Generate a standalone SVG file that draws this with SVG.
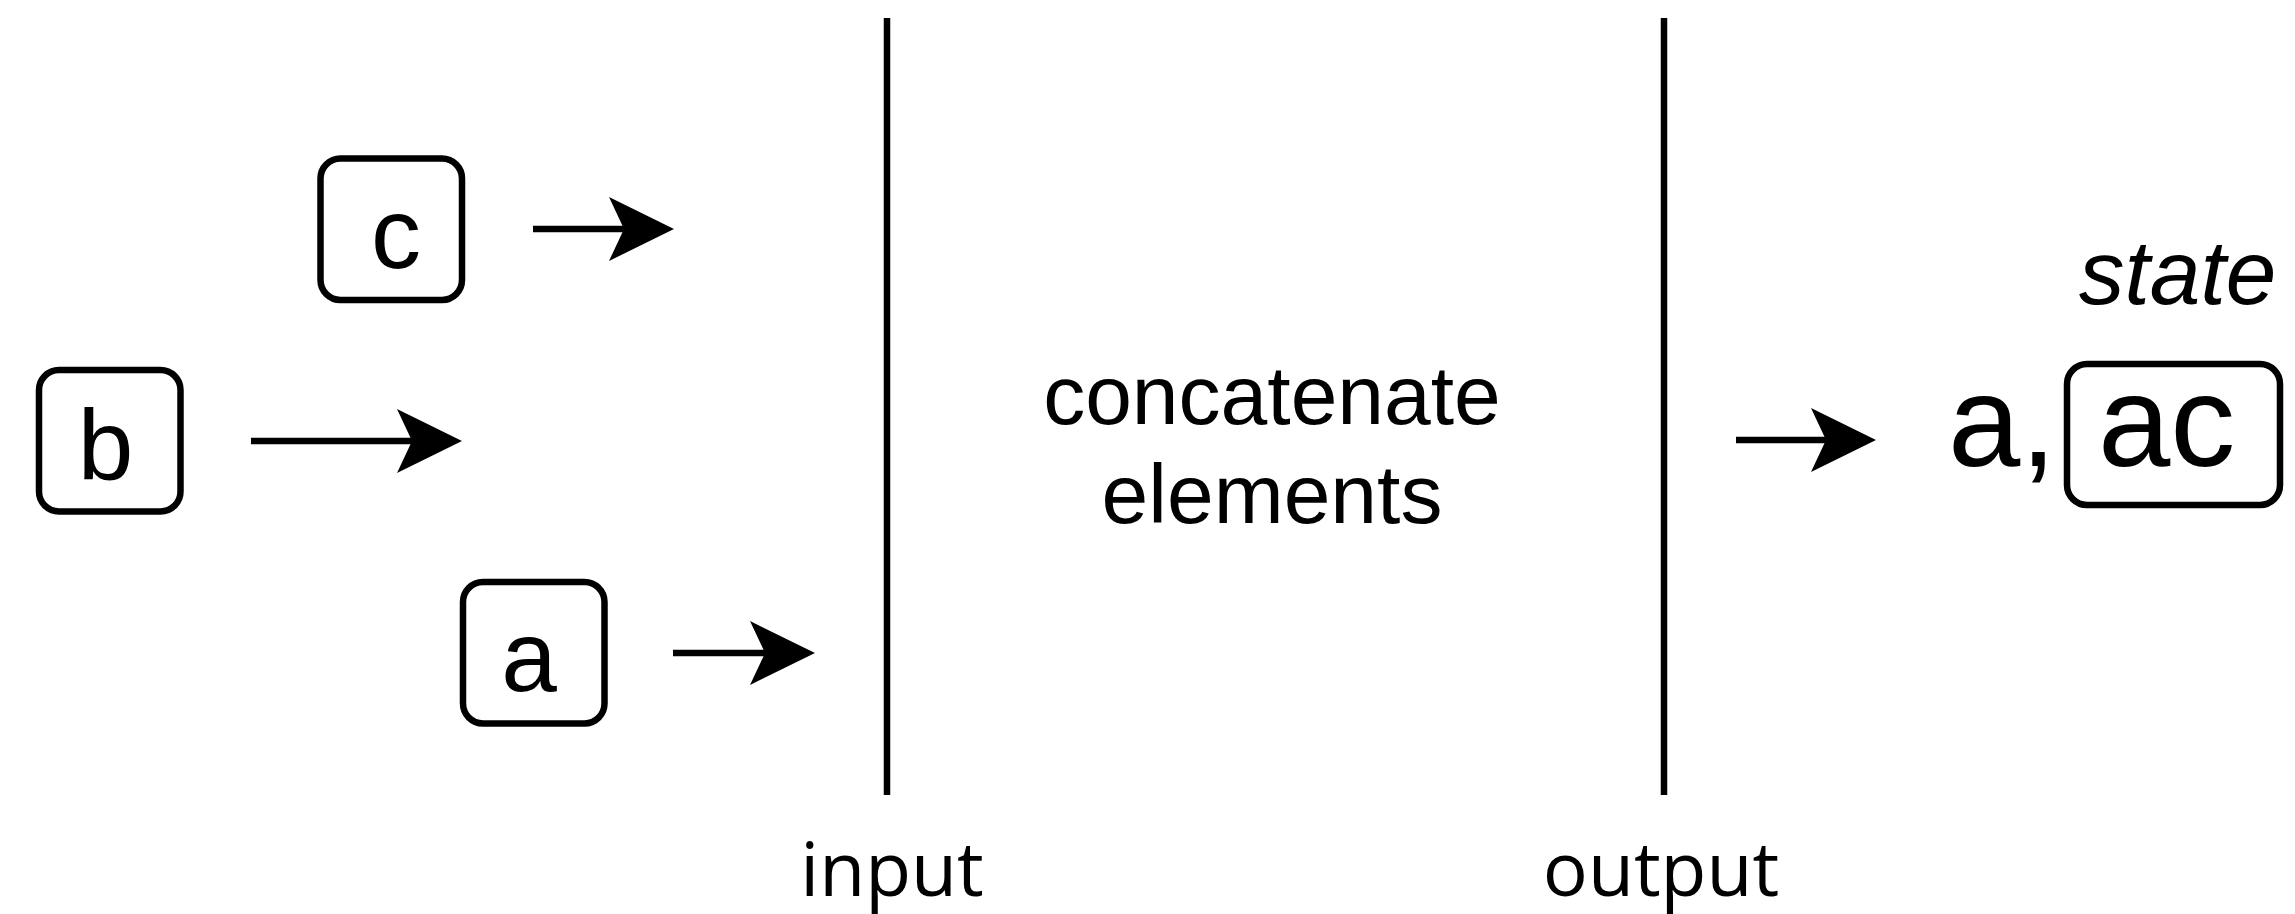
<svg xmlns="http://www.w3.org/2000/svg" width="2295" height="914" viewBox="0 0 2295 914">
  <style>
    .box { fill: #ffffff; stroke: #000000; stroke-width: 6.5; }
    .wire { stroke: #000000; stroke-width: 6.5; fill: none; }
    .sans { font-family: "Liberation Sans", Arial, sans-serif; fill: #000000; }
    .glyph { font-size: 100px; text-anchor: middle; }
    .body { font-size: 84px; text-anchor: middle; }
    .big { font-size: 130px; }
    .italic { font-size: 91px; font-style: italic; }
    .label { font-family: "Open Sans", "Noto Sans", sans-serif; font-size: 75px; text-anchor: middle; fill: #000000; }
  </style>
  <defs>
    <marker id="head" viewBox="0 0 65 64" refX="15" refY="32" markerWidth="65" markerHeight="64" markerUnits="userSpaceOnUse" orient="auto">
      <path d="M0,0 L65,32 L0,64 L15,32 Z" fill="#000000"/>
    </marker>
  </defs>
  <rect width="2295" height="914" fill="#ffffff"/>

  <!-- input elements -->
  <g id="node-c">
    <rect class="box" x="320.5" y="158.5" width="141.5" height="141.5" rx="20"/>
    <text class="sans glyph" x="396" y="268">c</text>
  </g>
  <g id="node-b">
    <rect class="box" x="39" y="370" width="141.5" height="141.5" rx="20"/>
    <text class="sans glyph" x="105.5" y="480">b</text>
  </g>
  <g id="node-a">
    <rect class="box" x="463" y="582" width="141.5" height="141.5" rx="20"/>
    <text class="sans glyph" x="529" y="691">a</text>
  </g>

  <!-- operator between the two boundaries -->
  <g id="node-operator">
    <text class="sans body" x="1272" y="424">concatenate</text>
    <text class="sans body" x="1272" y="523">elements</text>
  </g>

  <!-- result: emitted value plus state -->
  <g id="node-result">
    <text class="sans italic" x="2079" y="304">state</text>
    <text class="sans big" x="1948" y="466">a,</text>
    <rect class="box" x="2067" y="364" width="213" height="141" rx="20"/>
    <text class="sans big" x="2098" y="466">ac</text>
  </g>

  <!-- boundaries and their labels -->
  <g id="boundaries">
    <line class="wire" x1="887" y1="18" x2="887" y2="795"/>
    <line class="wire" x1="1664" y1="18" x2="1664" y2="795"/>
    <text class="label" x="892" y="896">input</text>
    <text class="label" x="1661" y="896">output</text>
  </g>

  <!-- connectors -->
  <g id="connectors">
    <line class="wire" x1="533" y1="229" x2="624" y2="229" marker-end="url(#head)"/>
    <line class="wire" x1="251" y1="441" x2="412" y2="441" marker-end="url(#head)"/>
    <line class="wire" x1="673" y1="653" x2="765" y2="653" marker-end="url(#head)"/>
    <line class="wire" x1="1736" y1="440" x2="1826" y2="440" marker-end="url(#head)"/>
  </g>
</svg>
